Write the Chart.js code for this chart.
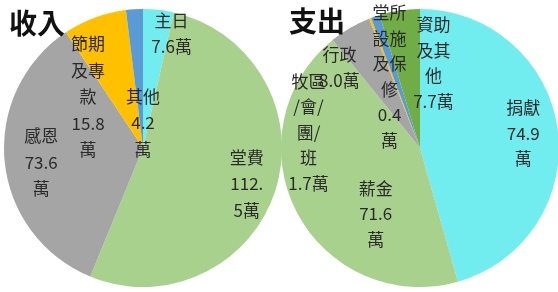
<!DOCTYPE html>
<html><head><meta charset="utf-8">
<script src="https://cdn.jsdelivr.net/npm/chart.js@4"></script>
<style>
html,body{margin:0;padding:0;background:#fff;width:558px;height:292px;overflow:hidden}
.box{position:absolute}
.title{position:absolute;z-index:5;font-family:"Noto Sans CJK TC","Noto Sans CJK SC",sans-serif;font-weight:bold;font-size:28px;color:#111;line-height:1}
</style></head><body>
<div class="box" style="left:4px;top:0px;width:278px;height:288px"><canvas id="c1"></canvas></div>
<div class="box" style="left:281px;top:0px;width:278px;height:288px"><canvas id="c2"></canvas></div>
<div class="title" style="left:9px;top:8px">收入</div>
<div class="title" style="left:289px;top:6px">支出</div>
<script>
// ---- Income (收入) ----
const incomeCategories = ['主日','堂費','感恩','節期及專款','其他'];
const incomeValues = [7.6, 112.5, 73.6, 15.8, 4.2];
const incomeLabelLines = [['主日','7.6萬'],['堂費','112.','5萬'],['感恩','73.6','萬'],['節期','及專','款','15.8','萬'],['其他','4.2','萬']];
// ---- Expenditure (支出) ----
const expenseCategories = ['捐獻','薪金','行政','堂所設施及保修','牧區/會/團/班','資助及其他'];
const expenseValues = [74.9, 71.6, 8.0, 0.4, 1.7, 7.7];
const expenseLabelLines = [['捐獻','74.9','萬'],['薪金','71.6','萬'],['行政','8.0萬'],['堂所','設施','及保','修','0.4','萬'],['牧區','/會/','團/','班','1.7萬'],['資助','及其','他','7.7萬']];

const incomeColors = ['#72EDEF','#A9D18E','#A5A5A5','#FFC000','#5B9BD5'];
const expenseColors = ['#72EDEF','#A9D18E','#A5A5A5','#FFC000','#5B9BD5','#70AD47'];
// label placement: [angle deg clockwise from top, radius fraction]
const incomePlace = [[14,0.85],[109,0.79],[262,0.74],[313,0.54],[0,0.18]];
const expensePlace = [[82,0.75],[214,0.57],[315,0.82],[337,0.56],[278,0.81],[9,0.62]];

const labelPlugin = {
  id:'sliceLabels',
  afterDatasetsDraw(chart, args, opts){
    const ctx=chart.ctx, meta=chart.getDatasetMeta(0);
    ctx.save();
    ctx.font=opts.font; ctx.fillStyle=opts.color;
    ctx.textAlign='center'; ctx.textBaseline='middle';
    meta.data.forEach((arc,i)=>{
      const p=opts.place[i], lines=opts.lines[i];
      const a=p[0]*Math.PI/180, r=arc.outerRadius*p[1];
      const cx=arc.x+r*Math.sin(a), cy=arc.y-r*Math.cos(a);
      const lh=opts.lineHeight, top=cy-(lines.length-1)*lh/2;
      lines.forEach((t,k)=>ctx.fillText(t,cx,top+k*lh));
    });
    ctx.restore();
  }
};

function makePie(id, cats, vals, colors, lines, place, lh){
  new Chart(document.getElementById(id), {
    type:'pie',
    data:{labels:cats, datasets:[{data:vals, backgroundColor:colors, borderWidth:0}]},
    options:{
      responsive:true, maintainAspectRatio:false, animation:false,
      layout:{padding:{top:8,bottom:0,left:0,right:0}},
      plugins:{legend:{display:false}, tooltip:{enabled:false},
        sliceLabels:{font:'17px "Noto Sans CJK TC"', color:'#2a2a2a', lines:lines, place:place, lineHeight:lh}}
    },
    plugins:[labelPlugin]
  });
}
makePie('c1', incomeCategories, incomeValues, incomeColors, incomeLabelLines, incomePlace, 26.5);
makePie('c2', expenseCategories, expenseValues, expenseColors, expenseLabelLines, expensePlace, 25.5);
</script>
</body></html>
